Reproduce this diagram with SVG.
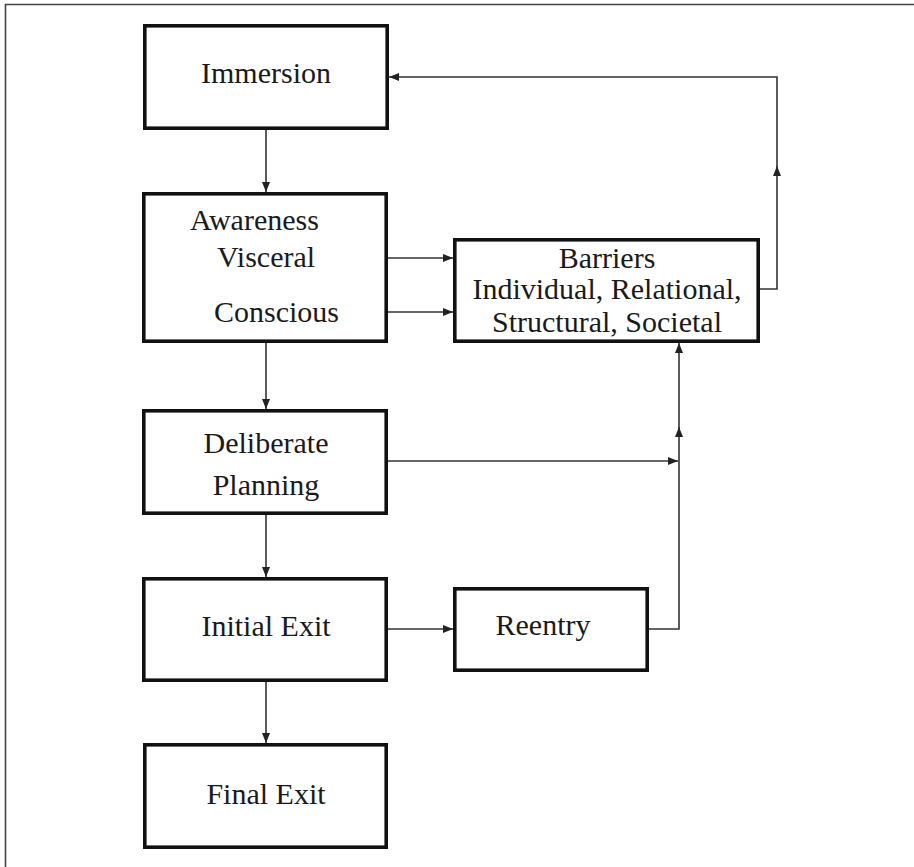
<svg xmlns="http://www.w3.org/2000/svg" width="914" height="867" viewBox="0 0 914 867">
<style>
.box{fill:#fff;stroke:#111;stroke-width:3.6}
.lbl{font-family:"Liberation Serif","Times New Roman",serif;font-size:30px;fill:#1a1a1a}
.mid{text-anchor:middle}
.con{fill:none;stroke:#333;stroke-width:1.6}
.frame{fill:none;stroke:#444;stroke-width:1.6}
</style>
<defs>
<marker id="ah" viewBox="0 0 10 8" refX="10" refY="4" markerWidth="10" markerHeight="8" markerUnits="userSpaceOnUse" orient="auto">
<path d="M0,0 L10,4 L0,8 Z" fill="#222"/>
</marker>
</defs>
<rect width="914" height="867" fill="#fff"/>
<path class="frame" d="M5.5,867 V4.5 H914"/>
<g id="connectors">
<path class="con" d="M266,130 V192" marker-end="url(#ah)"/>
<path class="con" d="M266,343 V409" marker-end="url(#ah)"/>
<path class="con" d="M266,515 V577" marker-end="url(#ah)"/>
<path class="con" d="M266,682 V743" marker-end="url(#ah)"/>
<path class="con" d="M388,258 H453" marker-end="url(#ah)"/>
<path class="con" d="M388,312 H453" marker-end="url(#ah)"/>
<path class="con" d="M760,289 H777 V166" marker-end="url(#ah)"/>
<path class="con" d="M777,168 V77 H389" marker-end="url(#ah)"/>
<path class="con" d="M388,461 H678" marker-end="url(#ah)"/>
<path class="con" d="M649,629 H679 V427" marker-end="url(#ah)"/>
<path class="con" d="M679,429 V343" marker-end="url(#ah)"/>
<path class="con" d="M388,629 H453" marker-end="url(#ah)"/>
</g>
<g id="immersion">
<rect class="box" x="144.8" y="25.8" width="242.4" height="102.4"/>
<text class="lbl mid" x="266" y="83">Immersion</text>
</g>
<g id="awareness">
<rect class="box" x="143.8" y="193.8" width="242.4" height="147.4"/>
<text class="lbl" x="190" y="230">Awareness</text>
<text class="lbl" x="217" y="267">Visceral</text>
<text class="lbl" x="214" y="322">Conscious</text>
</g>
<g id="barriers">
<rect class="box" x="454.8" y="239.8" width="303.4" height="101.4"/>
<text class="lbl mid" x="607" y="268">Barriers</text>
<text class="lbl mid" x="607" y="299">Individual, Relational,</text>
<text class="lbl mid" x="607" y="332">Structural, Societal</text>
</g>
<g id="deliberate">
<rect class="box" x="143.8" y="410.8" width="242.4" height="102.4"/>
<text class="lbl mid" x="266" y="453">Deliberate</text>
<text class="lbl mid" x="266" y="495">Planning</text>
</g>
<g id="initial-exit">
<rect class="box" x="143.8" y="578.8" width="242.4" height="101.4"/>
<text class="lbl mid" x="266" y="636">Initial Exit</text>
</g>
<g id="reentry">
<rect class="box" x="454.8" y="588.8" width="192.4" height="81.4"/>
<text class="lbl mid" x="543" y="635">Reentry</text>
</g>
<g id="final-exit">
<rect class="box" x="144.8" y="744.8" width="241.4" height="102.4"/>
<text class="lbl mid" x="266" y="804">Final Exit</text>
</g>
</svg>
